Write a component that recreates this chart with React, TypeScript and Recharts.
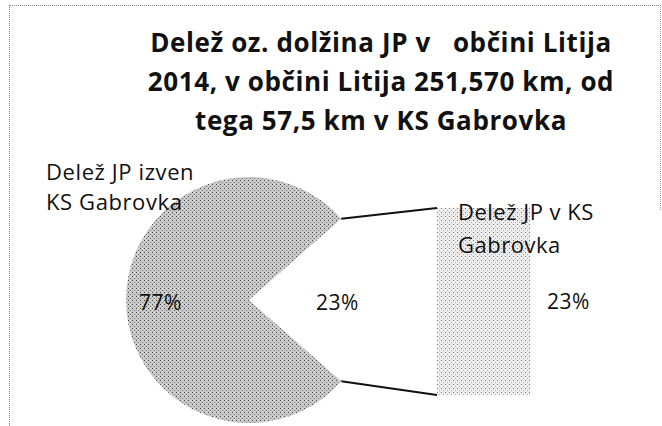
import { PieChart, Pie, Cell, BarChart, Bar, XAxis, YAxis, LabelList } from "recharts";

const titleLines = [
  "Delež oz. dolžina JP v   občini Litija",
  "2014, v občini Litija 251,570 km, od",
  "tega 57,5 km v KS Gabrovka",
];
const categories = ["Delež JP izven KS Gabrovka", "Delež JP v KS Gabrovka"];
const shares = [77, 23];
const barCategories = ["Delež JP v KS Gabrovka"];
const barValues = [23];

const FONT = "'Open Sans', 'Noto Sans', sans-serif";
const RAD = Math.PI / 180;

// layout of the pie and of the secondary bar
const PIE_CX = 249;
const PIE_CY = 300;
const PIE_R = 123;
const BAR_X = 437;
const BAR_Y = 208;
const BAR_W = 93;
const BAR_H = 187;

const total = shares.reduce((a, b) => a + b, 0);
const halfGap = (shares[1] / total) * 180;
const pieData = categories.map((name, i) => ({ name, value: shares[i] }));
const barTotal = barValues.reduce((a, b) => a + b, 0);
const barData = barCategories.map((name, i) => ({ name, value: barValues[i] }));

const renderPct = (props: any) => {
  const { cx, cy, midAngle, outerRadius, value } = props;
  const r = outerRadius * 0.72;
  const x = cx + r * Math.cos(-midAngle * RAD);
  const y = cy + r * Math.sin(-midAngle * RAD);
  return (
    <text x={x} y={y + 2} fill="#111" fontSize={21} fontFamily={FONT} letterSpacing={0.5} textAnchor="middle" dominantBaseline="central">
      {`${value}%`}
    </text>
  );
};

export default function App() {
  const tipTop = {
    x: PIE_CX + PIE_R * Math.cos(halfGap * RAD),
    y: PIE_CY - PIE_R * Math.sin(halfGap * RAD),
  };
  const tipBottom = {
    x: PIE_CX + PIE_R * Math.cos(halfGap * RAD),
    y: PIE_CY + PIE_R * Math.sin(halfGap * RAD),
  };

  return (
    <div style={{ position: "absolute", left: 0, top: 0, width: 662, height: 426, background: "#fff", overflow: "hidden" }}>
      {/* chart frame */}
      <div style={{ position: "absolute", left: 9, top: 5, width: 651, height: 440, borderTop: "1px dotted #888", borderLeft: "1px dotted #888" }} />
      <div style={{ position: "absolute", left: 660, top: 5, width: 0, height: 205, borderLeft: "1px dotted #999" }} />

      <div style={{ position: "absolute", left: 81, top: 23, width: 600, textAlign: "center", fontFamily: FONT, fontWeight: 700, fontSize: 26, letterSpacing: 0.6, lineHeight: "39px", color: "#111", whiteSpace: "pre" }}>
        {titleLines.map((t) => (
          <div key={t}>{t}</div>
        ))}
      </div>

      <div style={{ position: "absolute", inset: 0 }}>
        <PieChart width={662} height={426} margin={{ top: 0, right: 0, bottom: 0, left: 0 }}>
          <defs>
            <pattern id="piePat" width="4" height="4" patternUnits="userSpaceOnUse">
              <rect width="4" height="4" fill="#c6c6c6" />
              <rect x="0" y="0" width="1" height="1" fill="#4a4a4a" />
              <rect x="2" y="2" width="1" height="1" fill="#808080" />
              <rect x="2" y="0" width="1" height="1" fill="#e4e4e4" />
            </pattern>
          </defs>
          <Pie
            data={pieData}
            dataKey="value"
            nameKey="name"
            cx={PIE_CX}
            cy={PIE_CY}
            outerRadius={PIE_R}
            startAngle={halfGap}
            endAngle={halfGap + 360}
            stroke="none"
            label={renderPct}
            labelLine={false}
            isAnimationActive={false}
          >
            <Cell fill="url(#piePat)" />
            <Cell fill="none" />
          </Pie>
        </PieChart>
      </div>

      <div style={{ position: "absolute", left: BAR_X, top: BAR_Y }}>
        <BarChart width={BAR_W + 120} height={BAR_H} data={barData} margin={{ top: 0, right: 120, bottom: 0, left: 0 }} barCategoryGap={0}>
          <defs>
            <pattern id="barPat" width="4" height="4" patternUnits="userSpaceOnUse">
              <rect width="4" height="4" fill="#ececec" />
              <rect x="0" y="0" width="1" height="1" fill="#777" />
              <rect x="2" y="2" width="1" height="1" fill="#b0b0b0" />
            </pattern>
          </defs>
          <XAxis dataKey="name" hide />
          <YAxis hide domain={[0, barTotal]} />
          <Bar dataKey="value" fill="url(#barPat)" isAnimationActive={false}>
            <LabelList
              dataKey="value"
              position="right"
              offset={17}
              formatter={(v: any) => `${v}%`}
              style={{ fontFamily: FONT, fontSize: 21, letterSpacing: 0.5, fill: "#111" }}
            />
          </Bar>
        </BarChart>
      </div>

      <svg width={662} height={426} style={{ position: "absolute", left: 0, top: 0, pointerEvents: "none" }}>
        <line x1={tipTop.x} y1={tipTop.y} x2={BAR_X} y2={BAR_Y} stroke="#111" strokeWidth={2} />
        <line x1={tipBottom.x} y1={tipBottom.y} x2={BAR_X} y2={BAR_Y + BAR_H} stroke="#111" strokeWidth={2} />
      </svg>

      <div style={{ position: "absolute", left: 46, top: 156, fontFamily: FONT, fontSize: 22, letterSpacing: 0.6, lineHeight: "30px", color: "#111" }}>
        <div>Delež JP izven</div>
        <div>KS Gabrovka</div>
      </div>
      <div style={{ position: "absolute", left: 458, top: 195, fontFamily: FONT, fontSize: 22, letterSpacing: 0.5, lineHeight: "33px", color: "#111" }}>
        <div>Delež JP v KS</div>
        <div>Gabrovka</div>
      </div>
    </div>
  );
}
